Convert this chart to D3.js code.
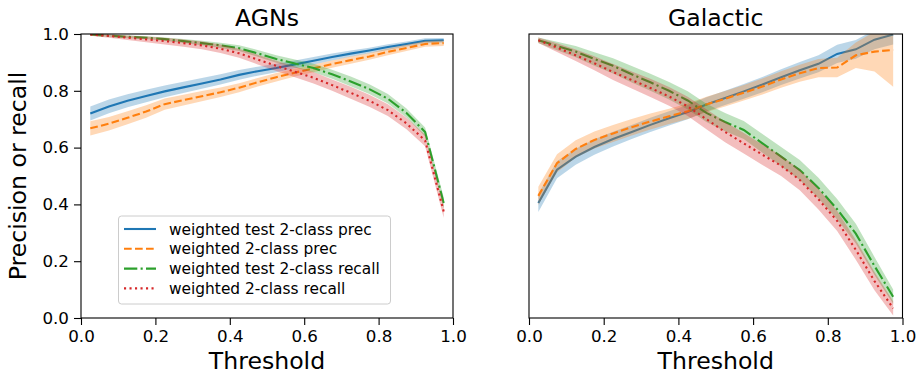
<!DOCTYPE html>
<html>
<head>
<meta charset="utf-8">
<script src="https://cdn.jsdelivr.net/npm/d3@7/dist/d3.min.js"></script>
<style>
  html, body { margin: 0; padding: 0; background: #fff; }
  svg { display: block; font-family: "DejaVu Sans", sans-serif; }
</style>
</head>
<body>
<svg id="chart" width="917" height="375"></svg>
<script>
// Sampled probability thresholds (bin centres)
const thresholds = [0.025, 0.075, 0.125, 0.175, 0.225, 0.275, 0.325, 0.375, 0.425, 0.475,
                    0.525, 0.575, 0.625, 0.675, 0.725, 0.775, 0.825, 0.875, 0.925, 0.975];

const panelTitles = ["AGNs", "Galactic"];
const seriesNames = ["weighted test 2-class prec", "weighted 2-class prec",
                     "weighted test 2-class recall", "weighted 2-class recall"];
const xTicks = [0, 0.2, 0.4, 0.6, 0.8, 1.0];
const yTicks = [0, 0.2, 0.4, 0.6, 0.8, 1.0];

// AGNs: mean curves
const agnTestPrec   = [0.720, 0.745, 0.765, 0.782, 0.798, 0.812, 0.826, 0.840, 0.856, 0.869,
                       0.880, 0.893, 0.906, 0.919, 0.931, 0.942, 0.954, 0.965, 0.976, 0.978];
const agnPrec       = [0.668, 0.684, 0.705, 0.727, 0.753, 0.767, 0.781, 0.795, 0.811, 0.830,
                       0.848, 0.864, 0.879, 0.894, 0.908, 0.921, 0.937, 0.951, 0.965, 0.968];
const agnTestRecall = [0.998, 0.994, 0.990, 0.987, 0.982, 0.975, 0.968, 0.960, 0.950, 0.932,
                       0.912, 0.896, 0.880, 0.858, 0.833, 0.806, 0.772, 0.722, 0.655, 0.405];
const agnRecall     = [0.998, 0.993, 0.987, 0.981, 0.975, 0.968, 0.960, 0.948, 0.932, 0.910,
                       0.888, 0.867, 0.846, 0.820, 0.793, 0.765, 0.732, 0.685, 0.625, 0.375];
// AGNs: spread (half-width of shaded band)
const agnTestPrecErr   = [0.025, 0.024, 0.023, 0.022, 0.021, 0.020, 0.019, 0.018, 0.017, 0.016,
                          0.015, 0.014, 0.013, 0.012, 0.011, 0.010, 0.010, 0.009, 0.009, 0.008];
const agnPrecErr       = [0.025, 0.024, 0.023, 0.022, 0.020, 0.019, 0.018, 0.017, 0.016, 0.015,
                          0.015, 0.014, 0.014, 0.013, 0.013, 0.012, 0.012, 0.011, 0.010, 0.010];
const agnTestRecallErr = [0.004, 0.004, 0.005, 0.005, 0.006, 0.007, 0.008, 0.009, 0.010, 0.012,
                          0.013, 0.014, 0.015, 0.016, 0.017, 0.017, 0.017, 0.016, 0.016, 0.020];
const agnRecallErr     = [0.004, 0.006, 0.008, 0.010, 0.012, 0.013, 0.014, 0.015, 0.016, 0.017,
                          0.018, 0.019, 0.020, 0.020, 0.021, 0.021, 0.021, 0.020, 0.020, 0.022];

// Galactic: mean curves
const galTestPrec   = [0.405, 0.522, 0.568, 0.602, 0.630, 0.655, 0.680, 0.703, 0.725, 0.752,
                       0.775, 0.798, 0.822, 0.848, 0.872, 0.895, 0.930, 0.946, 0.980, 0.998];
const galPrec       = [0.430, 0.545, 0.595, 0.627, 0.650, 0.672, 0.692, 0.710, 0.728, 0.752,
                       0.772, 0.793, 0.815, 0.840, 0.862, 0.880, 0.882, 0.925, 0.938, 0.944];
const galTestRecall = [0.978, 0.958, 0.938, 0.912, 0.888, 0.858, 0.830, 0.800, 0.766, 0.722,
                       0.690, 0.662, 0.615, 0.568, 0.521, 0.458, 0.383, 0.297, 0.183, 0.075];
const galRecall     = [0.978, 0.952, 0.925, 0.897, 0.866, 0.838, 0.810, 0.780, 0.745, 0.700,
                       0.655, 0.615, 0.575, 0.536, 0.486, 0.418, 0.342, 0.240, 0.130, 0.034];
// Galactic: spread (half-width of shaded band)
const galTestPrecErr   = [0.032, 0.030, 0.028, 0.027, 0.026, 0.025, 0.025, 0.025, 0.025, 0.025,
                          0.025, 0.026, 0.027, 0.028, 0.029, 0.030, 0.032, 0.033, 0.034, 0.035];
const galPrecErr       = [0.032, 0.032, 0.031, 0.030, 0.030, 0.029, 0.028, 0.027, 0.027, 0.027,
                          0.027, 0.027, 0.028, 0.029, 0.030, 0.032, 0.034, 0.045, 0.070, 0.130];
const galTestRecallErr = [0.010, 0.015, 0.020, 0.024, 0.027, 0.029, 0.030, 0.031, 0.032, 0.032,
                          0.032, 0.032, 0.033, 0.034, 0.035, 0.036, 0.036, 0.035, 0.032, 0.025];
const galRecallErr     = [0.010, 0.015, 0.020, 0.025, 0.028, 0.030, 0.032, 0.033, 0.034, 0.035,
                          0.036, 0.036, 0.036, 0.036, 0.036, 0.036, 0.036, 0.035, 0.032, 0.025];

const colors = ["#1f77b4", "#ff7f0e", "#2ca02c", "#d62728"];
// dash patterns (solid, dashed, dash-dot, dotted)
const dashes = [null, "7.7,3.3", "13.3,3.3,2.1,3.3", "2.1,3.4"];

const panels = [
  { title: panelTitles[0],
    means: [agnTestPrec, agnPrec, agnTestRecall, agnRecall],
    errs:  [agnTestPrecErr, agnPrecErr, agnTestRecallErr, agnRecallErr],
    range: [81, 453], yLabels: true, legend: true },
  { title: panelTitles[1],
    means: [galTestPrec, galPrec, galTestRecall, galRecall],
    errs:  [galTestPrecErr, galPrecErr, galTestRecallErr, galRecallErr],
    range: [529, 902.5], yLabels: false, legend: false }
];

const svg = d3.select("#chart");
const y = d3.scaleLinear().domain([0, 1]).range([318, 34]);

panels.forEach((p, pi) => {
  const x = d3.scaleLinear().domain([0, 1]).range(p.range);
  const g = svg.append("g");

  const clipId = "clip" + pi;
  svg.append("clipPath").attr("id", clipId)
    .append("rect")
    .attr("x", x(0)).attr("y", y(1))
    .attr("width", x(1) - x(0)).attr("height", y(0) - y(1));

  const plot = g.append("g").attr("clip-path", `url(#${clipId})`);

  const line = d3.line().x((d, i) => x(thresholds[i])).y(d => y(d));

  p.means.forEach((m, si) => {
    const err = p.errs[si];
    const area = d3.area()
      .x((d, i) => x(thresholds[i]))
      .y0((d, i) => y(d - err[i]))
      .y1((d, i) => y(d + err[i]));
    plot.append("path")
      .attr("d", area(m))
      .attr("fill", colors[si])
      .attr("fill-opacity", 0.3);
    plot.append("path")
      .attr("d", line(m))
      .attr("fill", "none")
      .attr("stroke", colors[si])
      .attr("stroke-width", 2.1)
      .attr("stroke-dasharray", dashes[si]);
  });

  // frame
  g.append("rect")
    .attr("x", x(0)).attr("y", y(1))
    .attr("width", x(1) - x(0)).attr("height", y(0) - y(1))
    .attr("fill", "none").attr("stroke", "#000").attr("stroke-width", 1.1);

  // x axis
  const xa = g.append("g")
    .attr("transform", `translate(0,${y(0)})`)
    .call(d3.axisBottom(x).tickValues(xTicks).tickFormat(d3.format(".1f"))
      .tickSize(7).tickPadding(5));
  xa.select(".domain").remove();
  xa.selectAll("line").attr("stroke", "#000").attr("stroke-width", 1.1);
  xa.selectAll("text").attr("font-size", 16.7).attr("fill", "#000")
    .attr("font-family", "DejaVu Sans");

  if (p.yLabels) {
    const ya = g.append("g")
      .attr("transform", `translate(${x(0)},0)`)
      .call(d3.axisLeft(y).tickValues(yTicks).tickFormat(d3.format(".1f"))
        .tickSize(7).tickPadding(5));
    ya.select(".domain").remove();
    ya.selectAll("line").attr("stroke", "#000").attr("stroke-width", 1.1);
    ya.selectAll("text").attr("font-size", 16.7).attr("fill", "#000")
      .attr("font-family", "DejaVu Sans");

    g.append("text")
      .attr("transform", `translate(26,${(y(0) + y(1)) / 2}) rotate(-90)`)
      .attr("text-anchor", "middle")
      .attr("font-size", 23.6)
      .text("Precision or recall");
  }

  // title
  g.append("text")
    .attr("x", (x(0) + x(1)) / 2).attr("y", 26)
    .attr("text-anchor", "middle")
    .attr("font-size", 23.6)
    .text(p.title);

  // x label
  g.append("text")
    .attr("x", (x(0) + x(1)) / 2).attr("y", 369)
    .attr("text-anchor", "middle")
    .attr("font-size", 23.6)
    .text("Threshold");

  if (p.legend) {
    const lg = g.append("g");
    lg.append("rect")
      .attr("x", 118.5).attr("y", 216)
      .attr("width", 272).attr("height", 88)
      .attr("rx", 3)
      .attr("fill", "#fff").attr("fill-opacity", 0.8)
      .attr("stroke", "#cccccc").attr("stroke-width", 1);
    seriesNames.forEach((name, si) => {
      const cy = 229 + si * 19.8;
      lg.append("line")
        .attr("x1", 124).attr("x2", 156)
        .attr("y1", cy).attr("y2", cy)
        .attr("stroke", colors[si]).attr("stroke-width", 2.1)
        .attr("stroke-dasharray", dashes[si]);
      lg.append("text")
        .attr("x", 169).attr("y", cy)
        .attr("dy", "0.36em")
        .attr("font-size", 15.4)
        .text(name);
    });
  }
});
</script>
</body>
</html>
